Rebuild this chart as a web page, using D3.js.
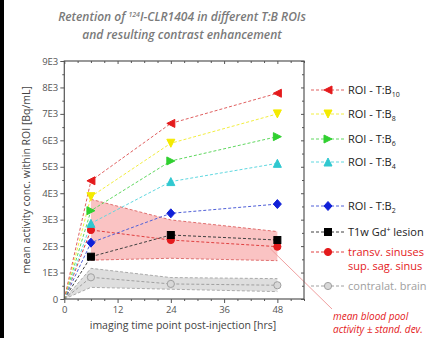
<!DOCTYPE html>
<html><head><meta charset="utf-8">
<script src="https://cdn.jsdelivr.net/npm/d3@7"></script>
<style>body{margin:0;background:#fff;} svg{display:block;}</style>
</head><body>
<script>
// ---- data ----
const times = [0, 6, 24, 48];
const xTicks = [0, 12, 24, 36, 48];
const yTicks = [0, 1000, 2000, 3000, 4000, 5000, 6000, 7000, 8000, 9000];
const yTickLabels = ["0", "1E3", "2E3", "3E3", "4E3", "5E3", "6E3", "7E3", "8E3", "9E3"];
const tb10 = [0, 4470, 6640, 7780];
const tb8 = [0, 3870, 5890, 7000];
const tb6 = [0, 3340, 5220, 6140];
const tb4 = [0, 2860, 4440, 5130];
const tb2 = [0, 2130, 3240, 3590];
const lesion = [0, 1600, 2420, 2230];
const sinus = [0, 2610, 2230, 1980];
const sinusUpper = [null, 3770, 2990, 2550];
const sinusLower = [null, 1470, 1540, 1450];
const brain = [0, 820, 570, 520];
const brainUpper = [0, 1160, 810, 770];
const brainLower = [0, 440, 370, 280];
const legendLabels = ["ROI - T:B", "ROI - T:B", "ROI - T:B", "ROI - T:B", "ROI - T:B", "T1w Gd", "transv. sinuses", "contralat. brain"];
const legendSubs = ["10", "8", "6", "4", "2"];

const W = 442, H = 338;
const svg = d3.select("body").append("svg").attr("width", W).attr("height", H);
svg.append("rect").attr("x", 0).attr("y", 0).attr("width", 4).attr("height", H).attr("fill", "#000");

const x = d3.scaleLinear().domain([0, 54]).range([64.3, 304]);
const y = d3.scaleLinear().domain([0, 9000]).range([299, 61]);
const font = "'Open Sans', 'Liberation Sans', sans-serif";
const axCol = "#555";

// title
const title = svg.append("g").attr("font-family", font).attr("font-style", "italic").attr("font-weight", "600")
  .attr("fill", "#7a7a7a").attr("font-size", "12px").attr("text-anchor", "middle");
const t1 = title.append("text").attr("x", 182).attr("y", 21);
t1.append("tspan").text("Retention of ");
t1.append("tspan").text("124").attr("font-size", "7px").attr("dy", -4);
t1.append("tspan").text("I-CLR1404 in different T:B ROIs").attr("dy", 4);
title.append("text").attr("x", 182).attr("y", 39).text("and resulting contrast enhancement");

// bands
const line = d3.line().defined(d => d[1] != null).x(d => x(d[0])).y(d => y(d[1]));
const redBand = times.map((t, i) => ({t, u: sinusUpper[i], l: sinusLower[i]})).filter(d => d.u != null);
svg.append("path").datum(redBand)
  .attr("d", d3.area().x(d => x(d.t)).y0(d => y(d.l)).y1(d => y(d.u)))
  .attr("fill", "#f9b8b8").attr("opacity", 0.85);
const greyBand = times.map((t, i) => ({t, u: brainUpper[i], l: brainLower[i]}));
svg.append("path").datum(greyBand)
  .attr("d", d3.area().x(d => x(d.t)).y0(d => y(d.l)).y1(d => y(d.u)))
  .attr("fill", "#dedede");

function dashed(vals, col, w) {
  svg.append("path").datum(times.map((t, i) => [t, vals[i]]))
    .attr("d", line).attr("fill", "none").attr("stroke", col)
    .attr("stroke-width", w || 1).attr("stroke-dasharray", "3,2");
}
dashed(sinusUpper, "#e07070");
dashed(sinusLower, "#e07070");
dashed(brainUpper, "#aaaaaa");
dashed(brainLower, "#aaaaaa");

// annotation line
svg.append("line").attr("x1", x(48) - 7).attr("y1", y(1900)).attr("x2", 332).attr("y2", 309)
  .attr("stroke", "#f0a0a0").attr("stroke-width", 1);

// marker shapes
function marker(g, type, cx, cy, fill, stroke) {
  const s = 4;
  let el;
  if (type === "tl") el = g.append("path").attr("d", `M${cx - s},${cy} L${cx + s},${cy - s} L${cx + s},${cy + s} Z`);
  else if (type === "tr") el = g.append("path").attr("d", `M${cx + s},${cy} L${cx - s},${cy - s} L${cx - s},${cy + s} Z`);
  else if (type === "td") el = g.append("path").attr("d", `M${cx},${cy + s} L${cx - s},${cy - s} L${cx + s},${cy - s} Z`);
  else if (type === "tu") el = g.append("path").attr("d", `M${cx},${cy - s} L${cx - s},${cy + s} L${cx + s},${cy + s} Z`);
  else if (type === "di") el = g.append("path").attr("d", `M${cx},${cy - s - 0.5} L${cx + s},${cy} L${cx},${cy + s + 0.5} L${cx - s},${cy} Z`);
  else if (type === "sq") el = g.append("rect").attr("x", cx - 3.5).attr("y", cy - 3.5).attr("width", 7).attr("height", 7);
  else el = g.append("circle").attr("cx", cx).attr("cy", cy).attr("r", 3.6);
  el.attr("fill", fill).attr("stroke", stroke).attr("stroke-width", 1);
}

const series = [
  {vals: tb10, line: "#e06060", fill: "#e41a1c", type: "tl"},
  {vals: tb8, line: "#f2ee40", fill: "#f4ea00", type: "td"},
  {vals: tb6, line: "#60d860", fill: "#30d030", type: "tr"},
  {vals: tb4, line: "#60d8e0", fill: "#30c8d0", type: "tu"},
  {vals: tb2, line: "#5060d8", fill: "#1020d8", type: "di"},
  {vals: lesion, line: "#404040", fill: "#000000", type: "sq"},
  {vals: sinus, line: "#e04040", fill: "#e41a1c", type: "ci"},
  {vals: brain, line: "#a0a0a0", fill: "#d8d8d8", type: "ci", stroke: "#a0a0a0"}
];
series.slice().reverse().forEach(s => dashed(s.vals, s.line, 1));
const mg = svg.append("g");
series.slice().reverse().forEach(s => {
  times.forEach((t, i) => {
    if (i === 0) return;
    marker(mg, s.type, x(t), y(s.vals[i]), s.fill, s.stroke || s.fill);
  });
});

// axes frame
const frame = svg.append("g").attr("stroke", "#555").attr("fill", "none");
frame.append("rect").attr("x", x(0)).attr("y", y(9000)).attr("width", x(54) - x(0)).attr("height", y(0) - y(9000)).attr("stroke-width", 1.2);

const minorX = d3.range(0, 55, 3).filter(v => v % 12 !== 0);
const minorY = d3.range(500, 9000, 1000);

svg.append("g").attr("transform", `translate(${x(0)},0)`)
  .call(d3.axisLeft(y).tickValues(yTicks).tickFormat((d, i) => yTickLabels[i]).tickSize(4).tickPadding(2));
svg.append("g").attr("transform", `translate(${x(0)},0)`)
  .call(d3.axisLeft(y).tickValues(minorY).tickFormat("").tickSize(2));
svg.append("g").attr("transform", `translate(${x(54)},0)`)
  .call(d3.axisLeft(y).tickValues(yTicks).tickFormat("").tickSize(3));
svg.append("g").attr("transform", `translate(${x(54)},0)`)
  .call(d3.axisLeft(y).tickValues(minorY).tickFormat("").tickSize(2));
svg.append("g").attr("transform", `translate(0,${y(0)})`)
  .call(d3.axisBottom(x).tickValues(xTicks).tickSize(4).tickPadding(3));
svg.append("g").attr("transform", `translate(0,${y(0)})`)
  .call(d3.axisBottom(x).tickValues(minorX).tickFormat("").tickSize(2));
svg.append("g").attr("transform", `translate(0,${y(9000)})`)
  .call(d3.axisBottom(x).tickValues(xTicks).tickFormat("").tickSize(3));
svg.append("g").attr("transform", `translate(0,${y(9000)})`)
  .call(d3.axisBottom(x).tickValues(minorX).tickFormat("").tickSize(2));
svg.selectAll(".domain").remove();
svg.selectAll(".tick line").attr("stroke", "#555");
svg.selectAll(".tick text").attr("fill", axCol).attr("font-family", font).attr("font-size", "9.5px");

// axis titles
svg.append("text").attr("x", 183).attr("y", 329).attr("text-anchor", "middle")
  .attr("font-family", font).attr("font-size", "10.5px").attr("fill", "#444")
  .text("imaging time point post-injection [hrs]");
svg.append("text").attr("transform", "translate(30,180) rotate(-90)").attr("text-anchor", "middle")
  .attr("font-family", font).attr("font-size", "10.5px").attr("fill", "#444")
  .text("mean activity conc. within ROI [Bq/mL]");

// legend
const legY = [90, 114, 139, 162, 206, 232, 252, 286];
const lg = svg.append("g");
series.forEach((s, i) => {
  const yy = legY[i];
  lg.append("line").attr("x1", 311).attr("x2", 345).attr("y1", yy).attr("y2", yy)
    .attr("stroke", s.line).attr("stroke-width", 1).attr("stroke-dasharray", "3,2");
  marker(lg, s.type, 328, yy, s.fill, s.stroke || s.fill);
  const col = i === 6 ? "#e41a1c" : (i === 7 ? "#a0a0a0" : "#222");
  const tx = lg.append("text").attr("x", 348).attr("y", yy + 4).attr("font-family", font)
    .attr("font-size", "11px").attr("fill", col);
  tx.append("tspan").text(legendLabels[i]);
  if (i < 5) tx.append("tspan").text(legendSubs[i]).attr("font-size", "7px").attr("dy", 3);
  if (i === 5) {
    tx.append("tspan").text("+").attr("font-size", "7px").attr("dy", -4);
    tx.append("tspan").text(" lesion").attr("dy", 4);
  }
  if (i === 6) {
    lg.append("text").attr("x", 348).attr("y", yy + 18).attr("font-family", font)
      .attr("font-size", "11px").attr("fill", col).text("sup. sag. sinus");
  }
});

// annotation text
const an = svg.append("g").attr("font-family", font).attr("font-style", "italic")
  .attr("font-size", "10px").attr("fill", "#e41a1c");
an.append("text").attr("x", 333).attr("y", 320).text("mean blood pool");
an.append("text").attr("x", 333).attr("y", 333).text("activity ± stand. dev.");
</script>
</body></html>
